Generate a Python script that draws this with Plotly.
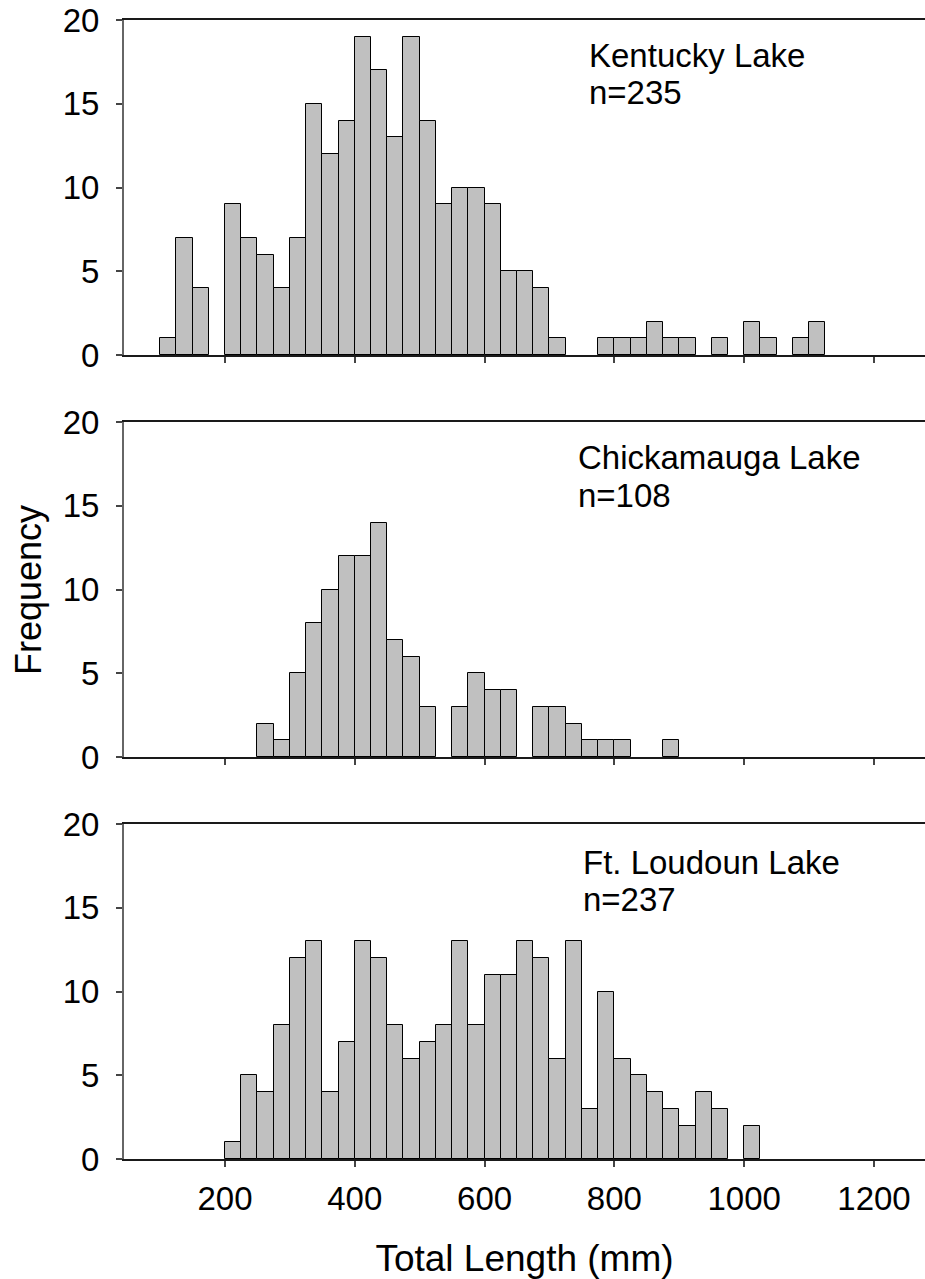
import plotly.graph_objects as go

# Bin lower edges (mm), bin width 25 mm
bin_starts = [100, 125, 150, 175, 200, 225, 250, 275, 300, 325, 350, 375, 400, 425,
              450, 475, 500, 525, 550, 575, 600, 625, 650, 675, 700, 725, 750, 775,
              800, 825, 850, 875, 900, 925, 950, 975, 1000, 1025, 1050, 1075, 1100]
bin_width = 25

kentucky = [1, 7, 4, 0, 9, 7, 6, 4, 7, 15, 12, 14, 19, 17,
            13, 19, 14, 9, 10, 10, 9, 5, 5, 4, 1, 0, 0, 1,
            1, 1, 2, 1, 1, 0, 1, 0, 2, 1, 0, 1, 2]
chickamauga = [0, 0, 0, 0, 0, 0, 2, 1, 5, 8, 10, 12, 12, 14,
               7, 6, 3, 0, 3, 5, 4, 4, 0, 3, 3, 2, 1, 1,
               1, 0, 0, 1, 0, 0, 0, 0, 0, 0, 0, 0, 0]
loudoun = [0, 0, 0, 0, 1, 5, 4, 8, 12, 13, 4, 7, 13, 12,
           8, 6, 7, 8, 13, 8, 11, 11, 13, 12, 6, 13, 3, 10,
           6, 5, 4, 3, 2, 4, 3, 0, 2, 0, 0, 0, 0]

panels = [("Kentucky Lake", "n=235", kentucky),
          ("Chickamauga Lake", "n=108", chickamauga),
          ("Ft. Loudoun Lake", "n=237", loudoun)]

x_ticks = [200, 400, 600, 800, 1000, 1200]
y_ticks = [0, 5, 10, 15, 20]

FONT = "Liberation Sans, Arial, sans-serif"
W, H = 925, 1279
ML, MR, MT, MB = 124, 0, 20, 120
plot_h = H - MT - MB

def ypaper(px):
    return (H - MB - px) / plot_h

domains = [(ypaper(355), ypaper(20)), (ypaper(757), ypaper(422)), (ypaper(1159), ypaper(824))]
label_pos = [(587, 55, 93), (576, 457, 495), (581, 862, 899)]

fig = go.Figure()
for i, (name, ntext, counts) in enumerate(panels):
    k = "" if i == 0 else str(i + 1)
    centers = [s + bin_width / 2 for s in bin_starts]
    heights = [c if c > 0 else None for c in counts]
    fig.add_trace(go.Bar(
        x=centers, y=heights, width=bin_width,
        marker=dict(color="#C0C0C0", line=dict(color="#000000", width=1)),
        xaxis="x" + k, yaxis="y" + k, showlegend=False,
    ))
    fig.layout["xaxis" + k] = dict(
        domain=[0, 1], range=[44.4, 1278.6], anchor="y" + k,
        showline=True, linecolor="#1a1a1a", linewidth=1.5, mirror=True,
        ticks="outside", ticklen=6, tickcolor="#444", tickwidth=1.5,
        tickvals=x_ticks, showticklabels=(i == 2), showgrid=False, zeroline=False,
        tickfont=dict(family=FONT, size=33, color="#000"), ticklabelstandoff=4,
        title=dict(text="Total Length (mm)" if i == 2 else "",
                   font=dict(family=FONT, size=37, color="#000"), standoff=30),
    )
    fig.layout["yaxis" + k] = dict(
        domain=list(domains[i]), range=[0, 20], anchor="x" + k,
        showline=True, linecolor="#666", linewidth=2,
        ticks="outside", ticklen=6, tickcolor="#444", tickwidth=1.5,
        tickvals=y_ticks, showgrid=False, zeroline=False,
        tickfont=dict(family=FONT, size=33, color="#000"), ticklabelstandoff=10,
    )
    lx, ly1, ly2 = label_pos[i]
    for txt, ly in ((name, ly1), (ntext, ly2)):
        fig.add_annotation(text=txt, x=(lx - ML) / (W - ML - MR), y=ypaper(ly),
                           xref="paper", yref="paper", xanchor="left", yanchor="middle",
                           showarrow=False, font=dict(family=FONT, size=33, color="#000"))

fig.add_annotation(text="Frequency", x=(28 - ML) / (W - ML - MR), y=ypaper(590),
                   xref="paper", yref="paper", xanchor="center", yanchor="middle",
                   showarrow=False, textangle=-90,
                   font=dict(family=FONT, size=36, color="#000"))

fig.update_layout(
    width=W, height=H, margin=dict(l=ML, r=MR, t=MT, b=MB),
    paper_bgcolor="white", plot_bgcolor="white", bargap=0,
    font=dict(family=FONT, color="#000"),
)
fig.write_html("out.html")
